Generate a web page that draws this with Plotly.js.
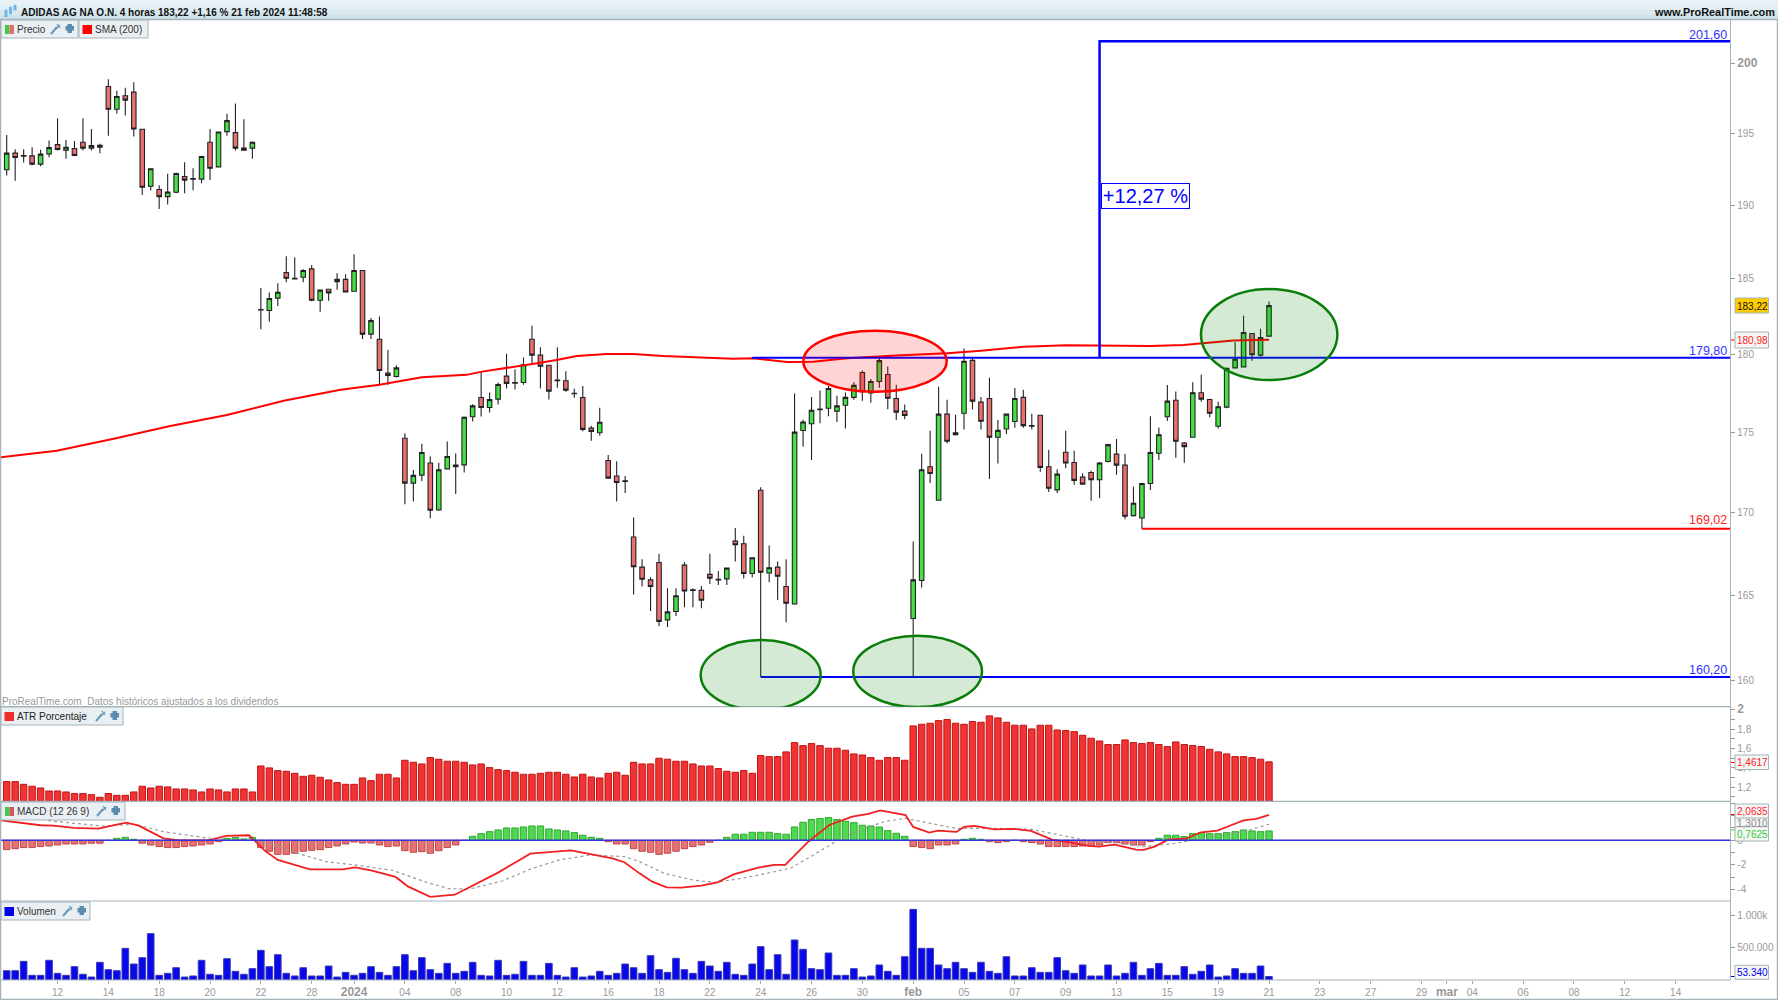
<!DOCTYPE html>
<html><head><meta charset="utf-8">
<script src="https://cdn.plot.ly/plotly-3.0.1.min.js"></script>
<style>html,body{margin:0;padding:0;background:#fff}#c{width:1778px;height:1000px}</style>
</head><body><div id="c"></div>
<script>
const open=[192.45,193.61,193.44,193.42,192.84,193.56,194.21,193.82,193.93,194.37,
193.96,194.16,198.33,196.71,197.67,197.93,195.29,191.31,191.08,190.59,
190.89,191.98,191.84,191.80,194.37,192.65,195.12,195.05,193.96,193.96,
182.97,182.90,183.72,185.42,185.04,185.11,185.67,183.58,184.31,184.82,
184.97,184.18,185.56,181.34,181.01,178.80,178.58,174.64,171.83,172.33,
173.08,170.17,172.72,172.85,172.97,176.00,177.23,176.59,177.13,178.61,
178.20,178.20,181.01,179.97,179.31,178.35,178.31,177.51,177.23,175.28,
174.99,173.24,172.27,171.98,168.51,166.69,165.92,166.97,163.54,164.03,
166.81,165.32,165.30,166.25,165.96,165.98,168.26,168.10,166.30,171.39,
166.33,166.69,165.52,164.48,175.13,175.56,176.50,176.55,176.36,176.74,
177.24,178.84,177.52,178.26,178.71,177.17,176.36,163.62,165.88,172.85,
170.77,176.17,174.86,176.23,179.63,176.94,177.17,174.70,175.23,175.70,
177.24,175.44,176.10,172.85,171.41,173.76,173.12,172.20,172.49,172.04,
173.18,173.64,172.95,169.82,169.68,171.81,173.70,176.00,177.06,174.34,
174.70,177.54,177.11,175.40,176.62,179.14,179.21,181.38,179.97,181.21];
const high=[194.88,193.89,193.89,194.02,193.84,194.49,196.07,194.54,194.47,196.07,
195.31,194.26,198.86,198.02,198.24,198.64,195.31,192.54,191.38,192.17,
192.24,192.98,192.56,193.42,195.31,195.12,196.38,197.12,196.00,194.42,
184.40,184.09,184.71,186.53,186.46,185.65,185.94,184.27,184.34,185.38,
185.31,186.65,185.56,182.40,182.51,180.30,179.31,174.95,172.64,174.30,
173.49,173.10,174.43,173.68,176.02,176.80,178.90,177.56,178.20,180.06,
179.05,179.82,181.89,180.48,179.33,180.48,178.92,177.79,177.98,175.43,
176.57,173.58,173.20,172.27,169.70,167.17,166.08,167.50,165.42,165.42,
166.99,165.40,165.56,167.50,166.45,166.67,169.07,168.59,167.27,171.58,
168.00,167.03,167.17,177.49,175.82,177.26,177.68,177.98,177.34,177.56,
178.22,178.97,178.43,179.87,179.23,178.05,176.79,168.24,173.66,175.11,
177.92,177.09,176.13,180.41,179.76,177.26,178.50,175.80,176.19,177.84,
177.73,176.19,176.13,173.91,172.70,175.11,173.85,172.45,172.60,173.14,
174.26,174.59,173.66,171.60,171.85,176.03,175.32,178.03,177.62,174.41,
178.22,178.69,177.15,176.96,179.16,180.81,182.55,181.40,181.69,183.50];
const low=[192.05,191.68,192.96,192.77,192.70,193.33,193.79,193.21,193.40,193.79,
193.79,193.61,194.84,196.38,196.26,194.77,190.70,191.01,189.74,190.05,
190.82,190.82,191.03,191.52,191.73,192.63,194.84,193.79,193.79,193.21,
181.67,182.15,183.19,184.78,184.97,184.78,183.52,182.81,183.54,184.27,
184.09,184.16,181.03,181.03,178.05,178.05,178.52,170.52,170.69,171.96,
169.66,170.12,172.68,171.16,172.49,175.70,176.02,176.27,176.78,177.81,
177.75,178.05,179.44,177.81,177.11,177.86,177.60,177.21,175.09,174.49,
174.80,172.10,170.69,171.21,165.05,165.52,164.07,163.16,163.12,163.77,
164.29,164.29,164.23,165.68,165.62,165.62,167.03,166.00,166.06,160.20,
165.78,164.72,163.40,164.44,174.10,173.28,175.59,176.04,175.67,175.25,
177.09,177.02,176.89,177.86,176.49,175.80,175.85,160.20,165.46,171.83,
170.75,174.32,174.82,175.20,176.47,175.20,172.08,173.06,174.91,175.31,
175.31,175.20,172.54,171.28,171.22,172.76,171.73,171.73,170.73,170.91,
173.12,172.35,169.60,169.76,169.02,171.41,173.28,175.74,173.41,173.10,
174.68,176.96,175.97,175.25,176.55,179.10,179.16,179.61,179.87,181.18];
const close=[193.61,193.30,193.40,192.84,193.54,194.00,193.86,194.02,193.44,193.96,
194.14,194.02,196.71,197.62,197.36,195.31,191.24,192.52,190.59,190.91,
192.19,191.73,191.80,193.37,192.56,195.10,195.90,193.96,193.82,194.37,
182.93,183.69,184.11,185.04,185.00,185.56,183.58,184.25,184.07,184.97,
184.13,185.56,181.34,182.23,178.97,178.65,179.14,171.83,172.31,173.74,
170.15,172.66,173.49,172.95,175.97,176.70,176.59,177.10,178.07,178.14,
178.16,179.35,179.97,179.25,177.64,178.31,177.71,177.47,175.20,175.07,
175.65,172.14,171.87,171.94,166.71,165.96,165.52,163.45,164.01,164.97,
165.25,165.28,164.70,166.02,165.92,166.63,168.04,166.30,167.25,166.38,
166.65,166.14,164.52,175.03,175.67,176.42,176.46,177.81,176.70,177.24,
178.01,177.60,178.26,179.61,177.19,176.30,176.08,165.92,172.66,172.43,
176.17,174.45,174.99,179.57,177.00,175.72,174.70,175.14,176.17,177.17,
175.44,175.40,172.81,171.51,172.39,173.08,172.00,171.77,172.04,173.08,
174.24,172.95,169.78,170.58,171.81,173.74,174.86,177.00,174.45,174.11,
177.54,177.13,176.23,176.64,179.12,179.70,181.45,180.00,181.12,183.22];

const smaBars=[-0.8,5.9,12.5,19.3,26,32.7,39.4,44,49,54.3,56.1,59,62.6,64.9,67.3,70.8,73.9,77.5,81.9,85.7,88.1,92.1,95.2,99.2,105,111,115,120,125.1,130.6,135,138.9,142.9,144.8,149];
const sma=[173.44,173.85,174.59,175.42,176.12,177.02,177.73,178.05,178.54,178.69,178.90,179.12,179.44,179.65,179.91,180.04,180.04,179.91,179.80,179.74,179.76,179.52,179.54,179.76,179.95,180.09,180.26,180.52,180.61,180.61,180.57,180.63,180.83,180.92,180.98];

const atr=[1.257,1.257,1.229,1.209,1.191,1.160,1.160,1.150,1.133,1.133,1.122,1.095,1.133,1.115,1.115,1.150,1.209,1.191,1.209,1.202,1.181,1.181,1.171,1.150,1.181,1.171,1.150,1.181,1.181,1.150,
1.419,1.399,1.371,1.364,1.343,1.312,1.323,1.302,1.274,1.247,1.229,1.229,1.295,1.267,1.333,1.333,1.295,1.478,1.457,1.440,1.506,1.489,1.468,1.468,1.457,1.430,1.440,1.402,1.381,1.371,1.354,1.333,1.333,1.343,1.354,1.354,1.333,1.305,1.333,1.305,1.295,1.343,1.354,1.323,1.457,
1.440,1.440,1.499,1.489,1.468,1.468,1.440,1.419,1.419,1.392,1.364,1.354,1.371,1.343,1.527,1.516,1.516,1.565,1.661,1.630,1.651,1.630,1.603,1.603,1.582,1.544,1.533,1.506,1.478,1.506,1.506,1.478,
1.834,1.851,1.862,1.889,1.900,1.862,1.851,1.879,1.872,1.938,1.917,1.872,1.841,1.841,1.803,1.841,1.841,1.792,1.786,1.775,1.737,1.706,1.678,1.641,1.641,1.689,1.661,1.651,1.661,1.641,1.620,1.668,1.641,1.630,1.620,1.592,1.565,1.544,1.516,1.516,1.506,1.489,1.4617];

const hist=[-.76,-.68,-.59,-.59,-.51,-.46,-.38,-.30,-.30,-.30,-.24,-.24,0,.16,.24,.08,-.24,-.38,-.51,-.59,-.59,-.51,-.46,-.38,-.30,-.11,.16,.22,.11,.24,
-.59,-.89,-1.14,-1.14,-1.05,-.89,-.81,-.76,-.59,-.46,-.30,-.14,-.22,-.22,-.38,-.51,-.46,-.84,-.97,-.92,-1.05,-.84,-.59,-.38,0,.32,.54,.70,.84,1.0,1.0,1.08,1.16,1.16,.92,.84,.76,.62,.41,.24,.16,-.11,-.30,-.30,-.68,
-.89,-.97,-1.14,-1.05,-.89,-.68,-.51,-.38,-.16,0,.24,.49,.49,.65,.65,.65,.54,.49,1.08,1.46,1.68,1.76,1.84,1.68,1.54,1.43,1.22,1.16,1.08,.78,.57,.32,
-.51,-.59,-.68,-.38,-.38,-.30,.08,.16,.08,-.11,-.19,-.11,0,-.11,-.19,-.30,-.51,-.51,-.51,-.51,-.46,-.46,-.38,-.19,-.19,-.30,-.38,-.38,-.11,.16,.41,.41,.30,.54,.62,.54,.54,.62,.70,.84,.76,.70,.7625];

const macdBars=[-0.8,2.1,4,5.5,7.9,10.8,14.1,15.6,17.3,18.5,20.4,23.8,25.9,28.6,30.5,32,35.8,39.7,41.1,43,45.9,47.4,50,52.9,58,61.8,66.6,71.5,72.9,74.7,76.2,77.9,79.6,82,83.9,85.8,88.7,90.6,91.9,94.5,97.1,99.8,101.7,103.1,106.1,107,108.9,109.9,112.1,113,114.2,116.6,119,120.9,123.4,125.3,127.7,128.9,130.8,133.3,134.2,135.5,137.1,139.3,141,142.9,144.6,146,147.5,149];
const macd=[1.62,1.38,1.22,1.19,1.0,.95,1.43,1.19,.62,.16,0,0,.35,.41,-.86,-1.59,-2.35,-2.35,-2.19,-2.43,-2.97,-3.76,-4.59,-4.41,-2.62,-1.08,-.81,-1.46,-1.78,-2.68,-3.35,-3.81,-3.84,-3.68,-3.41,-2.76,-2.22,-2.0,-2.0,-.19,1.24,1.92,2.14,2.43,2.05,1.08,.62,.78,.68,1.08,1.16,.89,.92,.76,.05,-.14,-.46,-.51,-.35,-.76,-.78,-.51,.05,.16,.65,.78,1.24,1.62,1.73,2.0635];

const signalBars=[0,5.5,11.3,15.1,18.5,23.3,26.2,28.6,31,33.9,37.7,41.1,45.5,49.3,52.2,54.6,58.5,61.8,65.2,69,72.9,74.7,77.6,81,83.6,86.8,89.7,92.5,94.9,98.3,100.8,103.6,106,108.5,112,116.7,120.9,124.3,127.7,131,134.2,137.4,140.3,143.1,146,149];
const signal=[2.19,1.54,1.16,1.30,.70,.22,.03,.08,-.24,-.97,-1.73,-2.0,-2.43,-3.35,-3.92,-3.95,-3.3,-2.34,-1.59,-1.19,-1.32,-1.73,-2.68,-3.22,-3.41,-3.08,-2.68,-2.27,-1.32,.08,.84,1.51,1.78,1.46,.97,.97,.89,.43,-.05,-.19,-.51,-.3,.03,.35,.70,1.301];

const volume=[144,144,288,72,72,304,103,72,206,88,46,273,160,144,489,247,345,716,72,103,190,46,62,304,88,72,329,134,88,175,
458,206,391,103,62,190,62,62,216,46,118,72,103,206,118,72,206,391,144,345,160,103,257,103,134,273,72,62,304,72,88,288,72,72,257,72,46,190,46,62,134,72,103,247,190,
103,376,160,118,335,160,103,288,216,134,273,88,72,247,515,160,391,88,618,474,175,160,417,72,72,175,46,62,232,134,72,360,1091,489,489,232,175,273,175,118,273,134,103,360,62,62,190,118,118,345,144,103,232,62,62,232,62,103,273,72,175,257,72,72,206,88,134,232,46,62,175,103,103,216,53.34];

const xTickBars=[6,12,18,24,30,36,41,47,53,59,65,71,77,83,89,95,101,107,113,119,125,131,137,143,149,155,161,167,170,173,179,185,191,197];
const B=t=>'<b style="font-size:12px">'+t+'</b>';
const xTickText=['12','14','18','20','22','28',B('2024'),'04','08','10','12','16','18','22','24','26','30',B('feb'),'05','07','09','13','15','19','21','23','27','29',B('mar'),'04','06','08','12','14'];
const priceTicks=[160,165,170,175,180,185,190,195,200];
const priceLabels=['160','165','170','175','180','185','190','195',B('200')];
const level0=160.20,level1=179.80,level2=169.02,level3=201.60;
const title='ADIDAS AG NA O.N. 4 horas 183,22 +1,16 % 21 feb 2024 11:48:58';

const bars=open.map((_,i)=>i);
const X=p=>p/1778, Y=p=>1-p/1000;
const XMIN=-0.673, XMAX=203.45, ARIGHT=XMAX;

const traces=[
 {type:'candlestick',x:bars,open,high,low,close,xaxis:'x',yaxis:'y',whiskerwidth:0,
  increasing:{fillcolor:'#45e045',line:{color:'#222',width:1.1}},
  decreasing:{fillcolor:'#ea7070',line:{color:'#222',width:1.1}},hoverinfo:'skip'},
 {type:'scatter',mode:'lines',x:smaBars,y:sma,line:{color:'#ff0000',width:2},yaxis:'y',xaxis:'x',hoverinfo:'skip'},
 {type:'scatter',mode:'lines',x:[88,ARIGHT],y:[level1,level1],line:{color:'#0000ff',width:2},yaxis:'y',hoverinfo:'skip'},
 {type:'scatter',mode:'lines',x:[89,ARIGHT],y:[level0,level0],line:{color:'#0000ff',width:2},yaxis:'y',hoverinfo:'skip'},
 {type:'scatter',mode:'lines',x:[134,ARIGHT],y:[level2,level2],line:{color:'#ff0000',width:2},yaxis:'y',hoverinfo:'skip'},
 {type:'scatter',mode:'lines',x:[129,129,ARIGHT],y:[level1,level3,level3],line:{color:'#0000ff',width:2.5},yaxis:'y',hoverinfo:'skip'},
 {type:'bar',x:bars,y:atr.map(v=>v-1.053),base:1.053,width:.76,yaxis:'y2',xaxis:'x',marker:{color:'#f03434',line:{color:'#c01414',width:1}},hoverinfo:'skip'},
 {type:'bar',x:bars,y:hist,width:.76,yaxis:'y3',xaxis:'x',
  marker:{color:hist.map(v=>v>=0?'#4fd94f':'#e87272'),line:{color:hist.map(v=>v>=0?'#2ea82e':'#c04848'),width:1}},hoverinfo:'skip'},
 {type:'scatter',mode:'lines',x:signalBars,y:signal,line:{color:'#999',width:1.2,dash:'3px,3px'},yaxis:'y3',hoverinfo:'skip'},
 {type:'scatter',mode:'lines',x:macdBars,y:macd,line:{color:'#f02020',width:1.8},yaxis:'y3',hoverinfo:'skip'},
 {type:'scatter',mode:'lines',x:[XMIN,ARIGHT],y:[0,0],line:{color:'#3333dd',width:1.4},yaxis:'y3',hoverinfo:'skip'},
 {type:'bar',x:bars,y:volume,width:.78,yaxis:'y4',xaxis:'x',marker:{color:'#0808e8',line:{color:'#3a3ab8',width:1}},hoverinfo:'skip'}
];

const GREY='#a4b4ba';
const tf={family:'Liberation Sans, Arial, sans-serif',size:10,color:'#999'};
function yax(domain,range,vals,text,type){return {domain,range,type:type||'linear',side:'right',anchor:'x',tickmode:'array',tickvals:vals,ticktext:text,
  ticks:'outside',ticklen:4,tickcolor:'#999',tickfont:tf,showline:true,linecolor:GREY,linewidth:1,showgrid:false,zeroline:false,fixedrange:true}}

const S=[];
function rect(x0,y0,x1,y1,fill,line){S.push({type:'rect',xref:'paper',yref:'paper',x0:X(x0),x1:X(x1),y0:Y(y0),y1:Y(y1),fillcolor:fill,line:line?{color:line,width:1}:{width:0},layer:'above'})}
function seg(x0,y0,x1,y1,c,w){S.push({type:'line',xref:'paper',yref:'paper',x0:X(x0),x1:X(x1),y0:Y(y0),y1:Y(y1),line:{color:c,width:w||1},layer:'above'})}
[['#e8f2f6',0,5],['#e0edf2',5,10],['#d8e8ee',10,15],['#cfe2e9',15,19]].forEach(b=>rect(0,b[1],1778,b[2],b[0]));
seg(0,19.5,1778,19.5,GREY,1.5);
[706.7,801.3,901,980].forEach(y=>seg(1,y,1730.3,y,GREY,1.2));
seg(0,999.3,1778,999.3,GREY,1.2);
seg(.5,20,.5,1000,GREY,1.5);
seg(1777.4,20,1777.4,1000,GREY,1.2);
[[6,10,17,2],[10.5,7,14,2],[15,5,10,2]].forEach(c=>{seg(c[0],c[1]-2,c[0],c[2]+3,'#b8d4ea',1);rect(c[0]-1.5,c[1],c[0]+1.5,c[2],'#6fb4ea')});
const BOX='#e9eff3';
function legend(x0,x1,y0,color,tool){rect(x0,y0,x1,y0+18,BOX,GREY);
 if(color.length==2){rect(x0+4,y0+5,x0+8.5,y0+14,color[0]);rect(x0+8.5,y0+5,x0+13,y0+14,color[1]);} else rect(x0+3.5,y0+5,x0+13,y0+14,color[0]);
 if(tool){const t=tool;seg(t,y0+14,t+6,y0+7,'#6a9ab8',2);seg(t+5,y0+9,t+9,y0+5,'#6a9ab8',1.5);seg(t+6,y0+4,t+9,y0+8,'#6a9ab8',1.2);
  rect(t+14.5,y0+6,t+23,y0+10.5,'#5a8db0');rect(t+16.5,y0+4,t+21,y0+13,'#5a8db0');}
}
legend(1,78,20,['#45c845','#e86e6e'],51);
legend(79,148,20,['#ff0000']);
legend(1,123,707,['#ee2c2c'],96);
legend(1,125,802,['#45c845','#cc5a5a'],97);
legend(1,90,902,['#0000ee'],63);

function ell(x0,x1,y0,y1,fill,line){S.push({type:'circle',xref:'x',yref:'y',x0,x1,y0,y1,fillcolor:fill,line:{color:line,width:2.5},layer:'above'})}
ell(94.03,110.95,177.60,181.57,'rgba(255,0,0,0.17)','#ff0000');
ell(140.97,157.07,178.36,184.32,'rgba(0,128,0,0.17)','#0a7d0a');
ell(81.92,96.08,158.29,162.35,'rgba(0,128,0,0.17)','#0a7d0a');
ell(99.93,115.12,158.46,162.6,'rgba(0,128,0,0.17)','#0a7d0a');

const F='Liberation Sans, Arial, sans-serif';
const A=[];
function txt(x,y,text,size,color,anchor,extra){A.push(Object.assign({xref:'paper',yref:'paper',x:X(x),y:Y(y),text,showarrow:false,xanchor:anchor||'left',yanchor:'middle',font:{family:F,size,color},borderpad:0,borderwidth:0},extra||{}))}
txt(21,12,'<b>'+title+'</b>',10,'#111');
txt(1775,12,'<b>www.ProRealTime.com</b>',10.9,'#111','right');
txt(17,29.5,'Precio',10,'#333');
txt(95,29.5,'SMA (200)',10,'#333');
txt(17,716,'ATR Porcentaje',10,'#222');
txt(17,811,'MACD (12 26 9)',10,'#333');
txt(17,911,'Volumen',10,'#333');
txt(2,701,'ProRealTime.com  Datos históricos ajustados a los dividendos',10,'#999');
txt(1727,35,'201,60',12.5,'#3333ff','right');
txt(1727,350.5,'179,80',12.5,'#3333ff','right');
txt(1727,670,'160,20',12.5,'#3333ff','right');
txt(1727,520,'169,02',12.5,'#ff2222','right');
function box(y0,y1,text,color,bg,x1){const x0=1735;rect(x0,y0,x1||1768.5,y1,bg,'#a4b4ba');txt(x0+1.5,(y0+y1)/2+.5,text,10,color)}
A.push({xref:'paper',yref:'paper',x:X(1145.5),y:Y(195.5),text:'+12,27 %',showarrow:false,xanchor:'center',yanchor:'middle',
  font:{family:F,size:20,color:'#0000ff'},bgcolor:'#fff',bordercolor:'#0000ff',borderwidth:1,width:87,height:24,borderpad:0});
box(298,313,'183,22','#111','#ffcc00');
box(332,348,'180,98','#ff2222','#f6f6f6');
box(755,769.5,'1,4617','#ff2222','#f6f6f6');
box(816.7,830,'1,3010','#888','#f6f6f6');
box(804,818,'2,0635','#ff2222','#f6f6f6');
box(826.7,841,'0,7625','#33cc33','#f6f6f6');
box(965.3,979.3,'53.340','#0000ee','#f6f6f6');
seg(1731,340,1734.5,340,'#ff0000',1);seg(1731,762.5,1734.5,762.5,'#ff0000',1);seg(1731,814.5,1734.5,814.5,'#ff0000',1);seg(1731,830,1734.5,830,'#33cc33',1);seg(1731,976.5,1734.5,976.5,'#0000ee',1);

const layout={width:1778,height:1000,margin:{l:0,r:0,t:0,b:0,pad:0},paper_bgcolor:'#fff',plot_bgcolor:'#fff',showlegend:false,barmode:'overlay',boxgap:0.24,dragmode:false,
 xaxis:{domain:[X(1),X(1730.3)],range:[XMIN,XMAX],anchor:'y4',type:'linear',tickmode:'array',tickvals:xTickBars,ticktext:xTickText,ticks:'outside',ticklen:3,tickcolor:'#aaa',tickfont:tf,
   showgrid:false,zeroline:false,showline:false,rangeslider:{visible:false},fixedrange:true},
 yaxis:yax([Y(706.7),Y(20)],[2.19998,2.30784],priceTicks,priceLabels,'log'),
 yaxis2:yax([Y(801.3),Y(707)],[1.053,2.03],[2,1.9,1.8,1.7,1.6,1.5,1.4,1.3,1.2,1.1],[B('2'),'','1,8','','1,6','','1,4','','1,2','']),
 yaxis3:yax([Y(901),Y(801.3)],[-4.92,3.16],[-4,-3,-2,-1,0,1,2,3],['-4','','-2','','0','','2','']),
 yaxis4:yax([Y(980),Y(901)],[0,1220],[500,1000],['500.000','1.000k']),
 shapes:S,annotations:A};
Plotly.newPlot('c',traces,layout,{staticPlot:true,displayModeBar:false});
</script></body></html>
